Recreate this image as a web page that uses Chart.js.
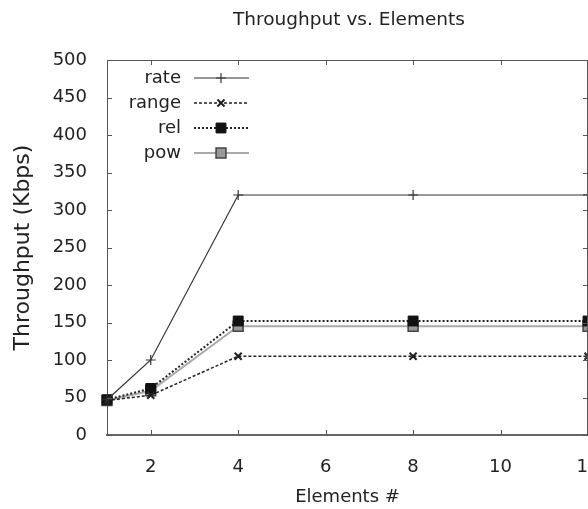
<!DOCTYPE html>
<html>
<head>
<meta charset="utf-8">
<script src="https://cdn.jsdelivr.net/npm/chart.js@4"></script>
<style>
  html, body { margin: 0; padding: 0; background: #fff; overflow: hidden; }
  /* the original plot is cropped on the right; draw it wider and let the window cut it */
  #wrap { width: 698px; height: 509px; position: relative; }
</style>
</head>
<body>
<div id="wrap"><canvas id="chart"></canvas></div>
<script>
// ---- data ----
const elements   = [1, 2, 4, 8, 12];
const rateVals   = [47, 100, 320, 320, 320];
const rangeVals  = [46, 53, 105, 105, 105];
const relVals    = [47, 62, 152, 152, 152];
const powVals    = [46, 59, 145, 145, 145];
const xTickVals  = [2, 4, 6, 8, 10, 12];
const seriesNames = ['rate', 'range', 'rel', 'pow'];
const chartTitle = 'Throughput vs. Elements';

const FONT = 'DejaVu Sans';
const TXT = '#222';

function pts(vals) {
  return vals.map((v, i) => ({ x: elements[i], y: v }));
}

// gnuplot look: title over the whole (uncropped) plot, inward ticks, border, legend
const gnuplotBits = {
  id: 'gnuplotBits',
  afterDatasetsDraw(chart) {
    const { ctx, chartArea: a, scales } = chart;
    ctx.save();

    // title, centred on the full original figure
    ctx.font = '18.5px "' + FONT + '"';
    ctx.fillStyle = TXT;
    ctx.textAlign = 'center';
    ctx.textBaseline = 'middle';
    ctx.fillText(chartTitle, 349, 20);

    ctx.strokeStyle = '#555';
    ctx.lineWidth = 1;
    // top + right border
    ctx.beginPath();
    ctx.moveTo(a.left, a.top + 0.5);
    ctx.lineTo(a.right, a.top + 0.5);
    ctx.moveTo(a.right - 0.5, a.top);
    ctx.lineTo(a.right - 0.5, a.bottom);
    ctx.stroke();
    // x ticks (bottom + top)
    ctx.beginPath();
    xTickVals.forEach(v => {
      const px = Math.round(scales.x.getPixelForValue(v)) + 0.5;
      ctx.moveTo(px, a.bottom); ctx.lineTo(px, a.bottom - 5);
      ctx.moveTo(px, a.top); ctx.lineTo(px, a.top + 5);
    });
    // y ticks (left + right)
    scales.y.ticks.forEach(t => {
      const py = Math.round(scales.y.getPixelForValue(t.value)) + 0.5;
      ctx.moveTo(a.left, py); ctx.lineTo(a.left + 5, py);
      ctx.moveTo(a.right, py); ctx.lineTo(a.right - 5, py);
    });
    ctx.stroke();

    // legend
    ctx.font = '18px "' + FONT + '"';
    ctx.textAlign = 'right';
    ctx.textBaseline = 'middle';
    chart.data.datasets.forEach((ds, i) => {
      const y = 78 + i * 25;
      ctx.fillStyle = TXT;
      ctx.fillText(ds.label, 181, y);
      ctx.save();
      ctx.strokeStyle = ds.borderColor;
      ctx.lineWidth = ds.borderWidth;
      ctx.setLineDash(ds.borderDash || []);
      ctx.beginPath();
      ctx.moveTo(194, y); ctx.lineTo(249, y);
      ctx.stroke();
      ctx.restore();
      ctx.save();
      ctx.fillStyle = ds.pointBackgroundColor;
      ctx.strokeStyle = ds.pointBorderColor;
      ctx.lineWidth = ds.pointBorderWidth;
      Chart.helpers.drawPoint(ctx, {
        pointStyle: ds.pointStyle,
        radius: ds.pointRadius,
        borderWidth: ds.pointBorderWidth,
        rotation: 0
      }, 221, y);
      ctx.restore();
    });
    ctx.restore();
  }
};

const datasets = [
  {
    label: seriesNames[0], data: pts(rateVals),
    borderColor: '#333', borderWidth: 1.2,
    pointStyle: 'cross', pointRadius: 5, pointBorderWidth: 1.2,
    pointBorderColor: '#333', pointBackgroundColor: '#333'
  },
  {
    label: seriesNames[1], data: pts(rangeVals),
    borderColor: '#222', borderWidth: 1.5, borderDash: [3, 2],
    pointStyle: 'crossRot', pointRadius: 5, pointBorderWidth: 2,
    pointBorderColor: '#222', pointBackgroundColor: '#222'
  },
  {
    label: seriesNames[2], data: pts(relVals),
    borderColor: '#222', borderWidth: 2, borderDash: [2, 2],
    pointStyle: 'rect', pointRadius: 7, pointBorderWidth: 1,
    pointBorderColor: '#111', pointBackgroundColor: '#111'
  },
  {
    label: seriesNames[3], data: pts(powVals),
    borderColor: '#aaa', borderWidth: 2,
    pointStyle: 'rect', pointRadius: 7, pointBorderWidth: 1.5,
    pointBorderColor: '#444', pointBackgroundColor: '#999'
  }
];
datasets.forEach(d => { d.clip = false; d.tension = 0; d.fill = false; d.pointHoverRadius = d.pointRadius; });

new Chart(document.getElementById('chart'), {
  type: 'line',
  data: { datasets: datasets },
  options: {
    responsive: true,
    maintainAspectRatio: false,
    animation: false,
    events: [],
    layout: { padding: { left: 0, top: 60, bottom: 0, right: 110 } },
    plugins: {
      legend: { display: false },
      tooltip: { enabled: false },
      title: { display: false }
    },
    scales: {
      x: {
        type: 'linear', min: 1, max: 12,
        grid: { display: false },
        border: { display: true, color: '#666', width: 2 },
        ticks: { color: TXT, padding: 14, font: { family: FONT, size: 18 }, maxRotation: 0 },
        afterBuildTicks(s) { s.ticks = xTickVals.map(v => ({ value: v })); },
        afterFit(s) { s.height = 74; },
        title: {
          display: true, text: 'Elements #', color: TXT,
          font: { family: FONT, size: 18 }, padding: { top: 0, bottom: 1 }
        }
      },
      y: {
        min: 0, max: 500,
        grid: { display: false },
        border: { display: true, color: '#555', width: 1 },
        ticks: { stepSize: 50, color: TXT, padding: 12, font: { family: FONT, size: 18 } },
        afterFit(s) { s.width = 107; },
        title: {
          display: true, text: 'Throughput (Kbps)', color: TXT,
          font: { family: FONT, size: 22 }, padding: { top: 10, bottom: 0 }
        }
      }
    }
  },
  plugins: [gnuplotBits]
});
</script>
</body>
</html>
